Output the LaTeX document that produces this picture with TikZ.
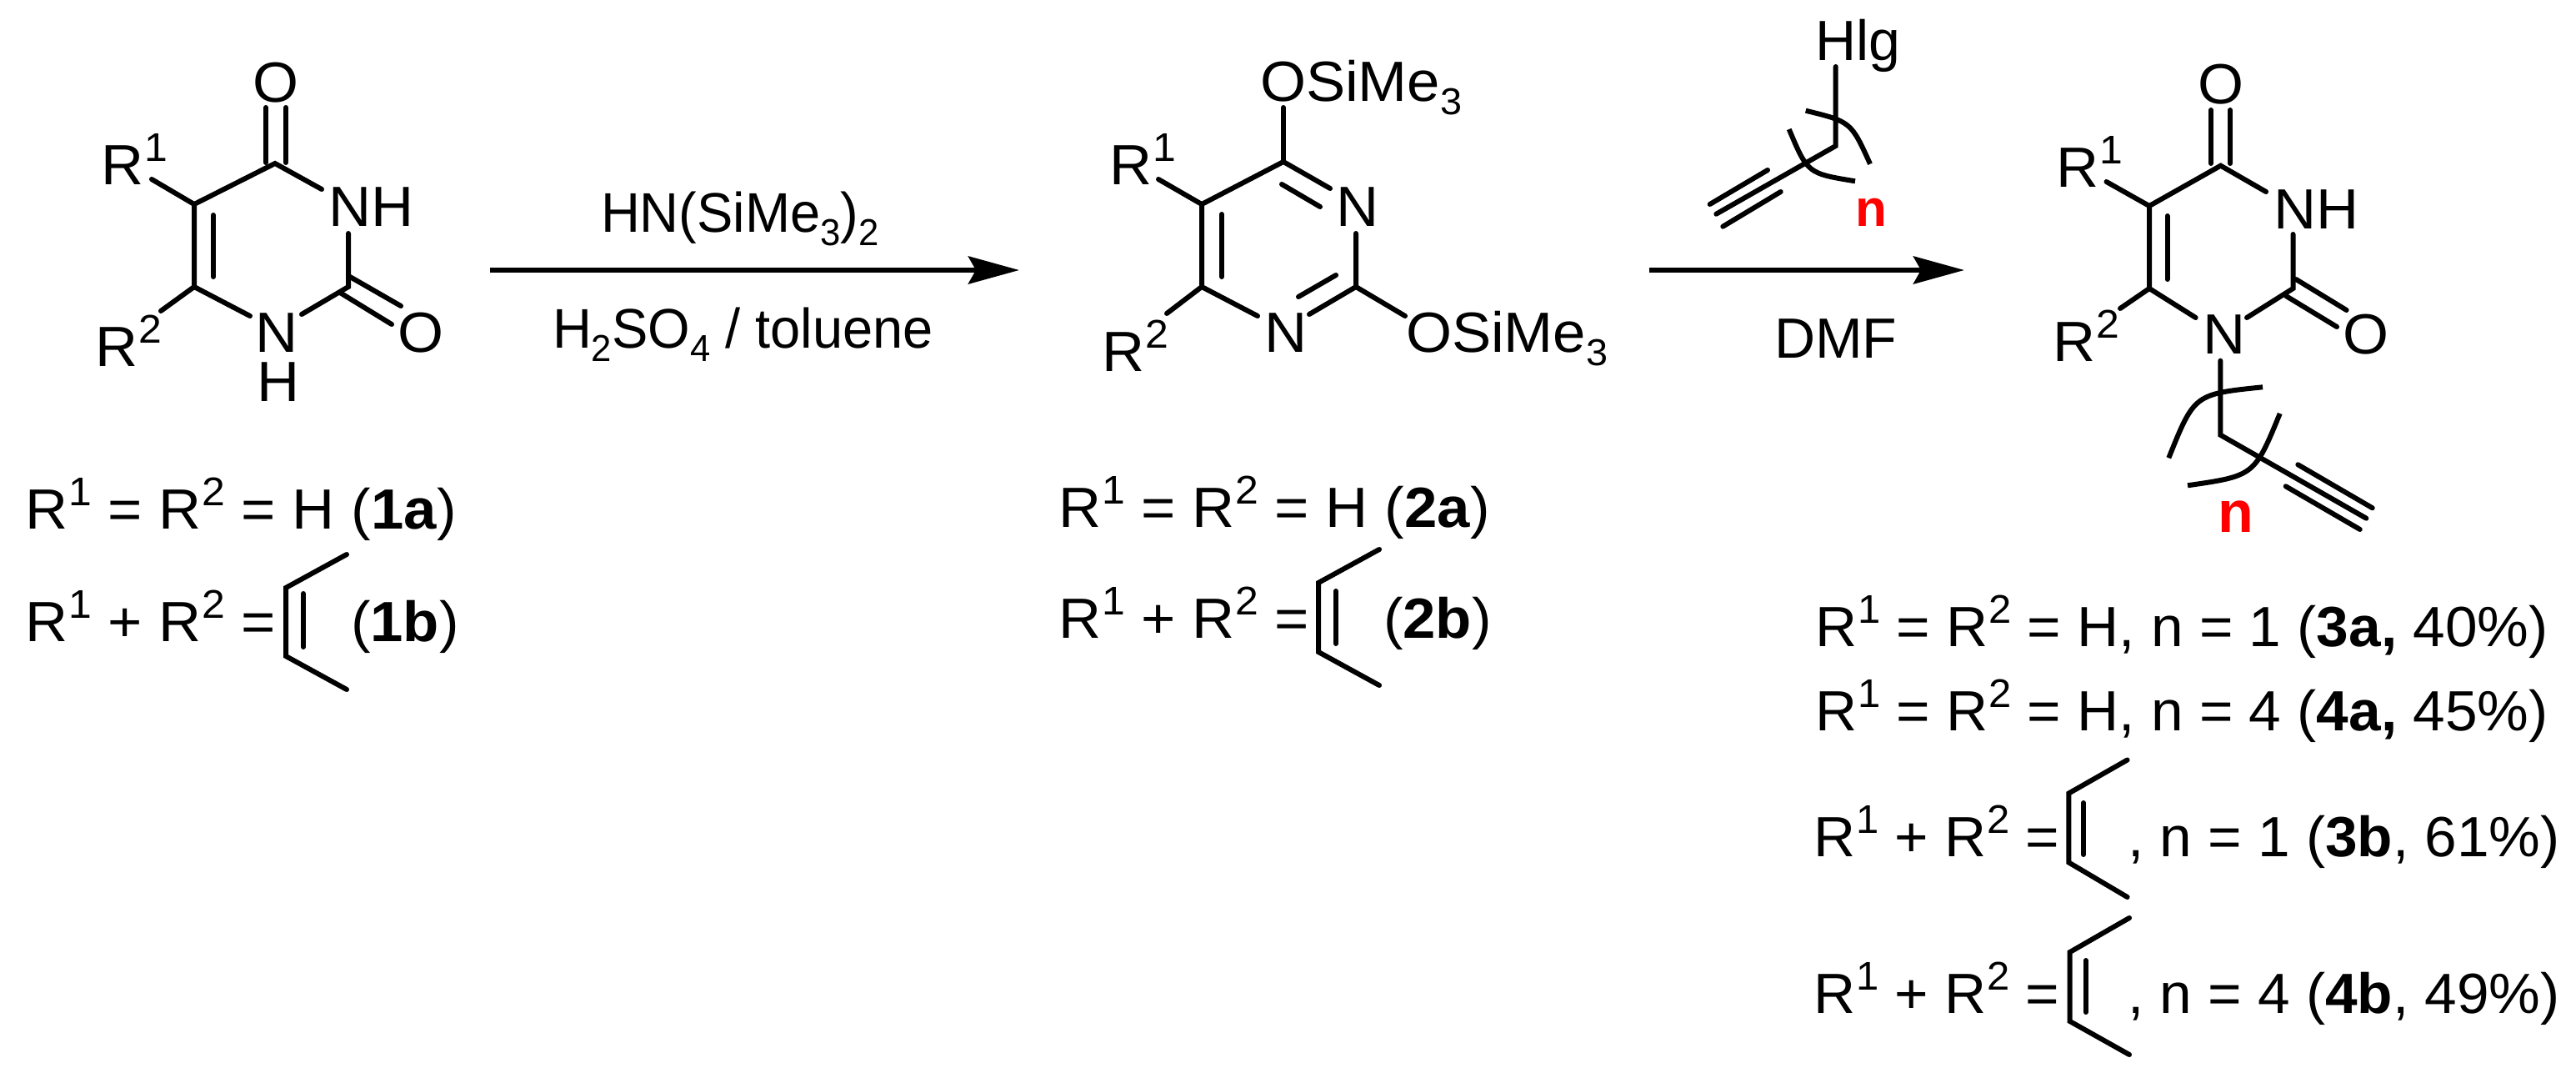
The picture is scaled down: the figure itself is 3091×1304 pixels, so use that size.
\documentclass[tikz,border=0pt]{standalone}
\usepackage{fontspec}
\setmainfont{Liberation Sans}
\newfontfamily\lab[FakeStretch=1.04]{Liberation Sans}
\newfontfamily\labc[FakeStretch=1.02]{Liberation Sans}
\newfontfamily\rea[FakeStretch=0.97]{Liberation Sans}
\usetikzlibrary{arrows.meta}
\newcommand{\sps}[1]{\kern1pt\raisebox{28pt}{\fontsize{48}{48}\selectfont #1}}
\newcommand{\sbs}[1]{\raisebox{-16pt}{\fontsize{45}{45}\selectfont #1}}
\tikzset{
  lbl/.style={anchor=base west,inner sep=0pt,outer sep=0pt,xshift=-3pt,font=\lab\fontsize{68}{72}\selectfont},
  lbc/.style={anchor=base west,inner sep=0pt,outer sep=0pt,xshift=-3pt,font=\labc\fontsize{68}{72}\selectfont},
  rgt/.style={anchor=base west,inner sep=0pt,outer sep=0pt,xshift=-3pt,font=\rea\fontsize{67}{72}\selectfont},
  rgu/.style={anchor=base west,inner sep=0pt,outer sep=0pt,xshift=-5pt,font=\fontsize{68}{72}\selectfont},
  idx/.style={anchor=base west,inner sep=0pt,outer sep=0pt,text=red,font=\bfseries\fontsize{#1}{#1}\selectfont},
  bond/.style={line width=6pt,line cap=round,line join=miter},
  brk/.style={line width=6pt},
  rxn/.style={line width=6.5pt,-{Stealth[length=61pt,width=33pt,inset=9pt]}},
}
\begin{document}
\begin{tikzpicture}[x=1pt,y=-1pt]
\useasboundingbox (0,0) rectangle (3091,1304);
% ---------- compound 1
\node[lbl] (aO4) at (306,122) {O};
\node[lbl] (aNH) at (397,271) {NH};
\node[lbl] (aN1) at (309,422) {N};
\node[lbl] (aH1) at (311,481) {H};
\node[lbl] (aO2) at (480,422) {O};
\node[lbl] (aR2) at (117,439) {R\sps{2}};
\node[lbl] (aR1) at (124,221) {R\sps{1}};
\coordinate (ac4) at (330,196);
\coordinate (ac5) at (233,245);
\coordinate (ac6) at (233,344);
\coordinate (ac2) at (418,344);
\draw[bond] (319,129) -- (319,195);
\draw[bond] (343,129) -- (343,195);
\draw[bond] (ac6) -- (ac5) -- (ac4) -- (386,227);
\draw[bond] (256,258) -- (256,332);
\draw[bond] (418,280) -- (ac2) -- (362,377);
\draw[bond] (420,332) -- (481,367);
\draw[bond] (408,351) -- (470,389);
\draw[bond] (ac6) -- (300,379);
\draw[bond] (ac6) -- (193,373);
\draw[bond] (ac5) -- (182,215);
% legend 1
\node[lbl] (l1a) at (33,634) {R\sps{1} = R\sps{2} = H (\textbf{1a})};
\node[lbl] (l1b) at (33,769) {R\sps{1} + R\sps{2} =};
\node[lbl] (l1c) at (424,769) {(\textbf{1b})};
\draw[bond] (416,665) -- (343,705) -- (343,787) -- (416,827);
\draw[bond] (364,712) -- (364,776);
% ---------- arrow 1
\coordinate (r1s) at (588,324);
\coordinate (r1e) at (1223,324);
\draw[rxn] (r1s) -- (r1e);
\node[rgt] (r1t) at (724,278) {HN(SiMe\sbs{3})\sbs{2}};
\node[rgt] (r1b) at (666,417) {H\sbs{2}SO\sbs{4} / toluene};
% ---------- compound 2
\node[lbl] (bO4) at (1515,121) {OSiMe\sbs{3}};
\node[lbl] (bN3) at (1606,271) {N};
\node[lbl] (bN1) at (1520,422) {N};
\node[lbl] (bO2) at (1690,422) {OSiMe\sbs{3}};
\node[lbl] (bR2) at (1325,445) {R\sps{2}};
\node[lbl] (bR1) at (1334,221) {R\sps{1}};
\coordinate (bc4) at (1540,194);
\coordinate (bc5) at (1442,245);
\coordinate (bc6) at (1442,344);
\coordinate (bc2) at (1627,344);
\draw[bond] (1540,129) -- (bc4);
\draw[bond] (bc6) -- (bc5) -- (bc4) -- (1596,226);
\draw[bond] (1466,257) -- (1466,332);
\draw[bond] (1538,221) -- (1584,248);
\draw[bond] (1627,280) -- (bc2) -- (1571,377);
\draw[bond] (1603,330) -- (1558,356);
\draw[bond] (bc2) -- (1686,379);
\draw[bond] (bc6) -- (1509,379);
\draw[bond] (bc6) -- (1400,376);
\draw[bond] (bc5) -- (1390,215);
% legend 2
\node[lbl] (l2a) at (1273,632) {R\sps{1} = R\sps{2} = H (\textbf{2a})};
\node[lbl] (l2b) at (1273,765) {R\sps{1} + R\sps{2} =};
\node[lbl] (l2c) at (1663,765) {(\textbf{2b})};
\draw[bond] (1655,659) -- (1582,699) -- (1582,782) -- (1655,822);
\draw[bond] (1603,709) -- (1603,772);
% ---------- arrow 2 and reagent
\coordinate (r2s) at (1979,324);
\coordinate (r2e) at (2357,324);
\draw[rxn] (r2s) -- (r2e);
\node[rgu] (r2b) at (2134,429) {DMF};
\node[rgu] (hlg) at (2183,72) {Hlg};
\node[idx=62] (n1) at (2226,271.7) {n};
\coordinate (pc) at (2202.7,175);
\draw[bond] (2202.7,80) -- (pc) -- (2059.3,256.7);
\draw[bond] (2121,204) -- (2051.7,245);
\draw[bond] (2136.7,230) -- (2067.3,271.7);
\draw[brk] (2166.7,132.7) .. controls (2221,146) .. (2244,196.7);
\draw[brk] (2146.7,155) .. controls (2169,208) .. (2226,217.3);
% ---------- compound 3
\node[lbl] (cO4) at (2640,124) {O};
\node[lbl] (cNH) at (2731,274) {NH};
\node[lbl] (cN1) at (2646,424) {N};
\node[lbl] (cO2) at (2814,424) {O};
\node[lbl] (cR2) at (2466,433) {R\sps{2}};
\node[lbl] (cR1) at (2470,224) {R\sps{1}};
\node[idx=70] (n2) at (2661,638.3) {n};
\coordinate (cc4) at (2664.6,198.7);
\coordinate (cc5) at (2579,247);
\coordinate (cc6) at (2579,346);
\coordinate (cc2) at (2751.5,346);
\coordinate (cch) at (2664.3,521.7);
\draw[bond] (2653,132) -- (2653,196);
\draw[bond] (2676,132) -- (2676,196);
\draw[bond] (cc6) -- (cc5) -- (cc4) -- (2719,230);
\draw[bond] (2600.5,259) -- (2600.5,335);
\draw[bond] (2751.5,281) -- (cc2) -- (2696,381);
\draw[bond] (2755,335) -- (2815.6,372);
\draw[bond] (2743,355) -- (2804,392);
\draw[bond] (cc6) -- (2634.6,381);
\draw[bond] (cc6) -- (2544,370);
\draw[bond] (cc5) -- (2527.5,218);
\draw[bond] (2664.3,432.7) -- (cch) -- (2839.3,621.7);
\draw[bond] (2757.3,557.3) -- (2846.7,609.3);
\draw[bond] (2742.7,583.3) -- (2831.7,635);
\draw[brk] (2715,464.3) .. controls (2633,472.7) .. (2602.3,549.3);
\draw[brk] (2735.7,496) .. controls (2705,570.7) .. (2625,582.3);
% legend 3
\node[lbc] (l3a) at (2181,775) {R\sps{1} = R\sps{2} = H, n = 1 (\textbf{3a,} 40\%)};
\node[lbc] (l3b) at (2181,876) {R\sps{1} = R\sps{2} = H, n = 4 (\textbf{4a,} 45\%)};
\node[lbc] (l3c) at (2179,1027) {R\sps{1} + R\sps{2} =};
\node[lbc] (l3d) at (2556,1027) {, n = 1 (\textbf{3b}, 61\%)};
\node[lbc] (l3e) at (2179,1215) {R\sps{1} + R\sps{2} =};
\node[lbc] (l3f) at (2556,1215) {, n = 4 (\textbf{4b}, 49\%)};
\draw[bond] (2552.6,911.5) -- (2482.4,951.5) -- (2482.4,1034.5) -- (2552.6,1076);
\draw[bond] (2500,963) -- (2500,1025);
\draw[bond] (2555,1101) -- (2483.7,1142) -- (2483.7,1225) -- (2555,1265);
\draw[bond] (2502.7,1152) -- (2502.7,1214);
\end{tikzpicture}
\end{document}
